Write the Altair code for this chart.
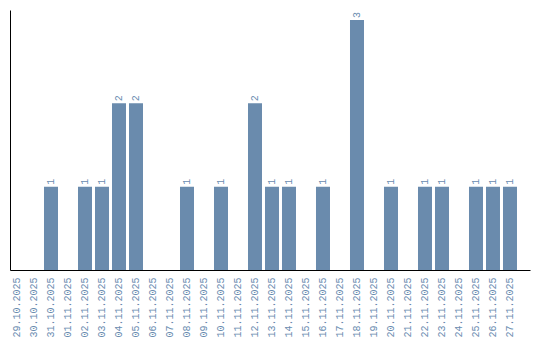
import altair as alt
import pandas as pd

dates = ["29.10.2025", "30.10.2025", "31.10.2025", "01.11.2025", "02.11.2025",
         "03.11.2025", "04.11.2025", "05.11.2025", "06.11.2025", "07.11.2025",
         "08.11.2025", "09.11.2025", "10.11.2025", "11.11.2025", "12.11.2025",
         "13.11.2025", "14.11.2025", "15.11.2025", "16.11.2025", "17.11.2025",
         "18.11.2025", "19.11.2025", "20.11.2025", "21.11.2025", "22.11.2025",
         "23.11.2025", "24.11.2025", "25.11.2025", "26.11.2025", "27.11.2025"]
counts = [0, 0, 1, 0, 1, 1, 2, 2, 0, 0,
          1, 0, 1, 0, 2, 1, 1, 0, 1, 0,
          3, 0, 1, 0, 1, 1, 0, 1, 1, 1]

df = pd.DataFrame({"date": dates, "count": counts})

BAR = "#6a8bad"
TXT = "#6a8cb0"
FONT = "Liberation Mono"

x = alt.X("date:N", sort=dates, title=None,
          scale=alt.Scale(paddingInner=3/17, paddingOuter=0.3826, align=0),
          axis=alt.Axis(labelAngle=-90, ticks=False, labelPadding=7, domainColor="black",
                        labelColor=TXT, labelFont=FONT, labelFontSize=10, grid=False))
y = alt.Y("count:Q", title=None, scale=alt.Scale(domain=[0, 3.12], nice=False),
          axis=alt.Axis(labels=False, ticks=False, grid=False, domainColor="black"))

bars = alt.Chart(df).mark_bar(color=BAR).encode(x=x, y=y)
labels = alt.Chart(df).transform_filter("datum.count > 0").mark_text(
    angle=270, align="left", baseline="middle", dx=2, color=TXT, font=FONT, fontSize=10
).encode(x=alt.X("date:N", sort=dates), y="count:Q", text="count:Q")

chart = (bars + labels).properties(
    width=520, height=260,
    autosize=alt.AutoSizeParams(type="none"),
    padding={"left": 10, "top": 10, "right": 10, "bottom": 70},
    background="white",
).configure_view(strokeWidth=0, stroke="transparent")

chart.save("out.html", embed_options={"renderer": "svg", "actions": False})
